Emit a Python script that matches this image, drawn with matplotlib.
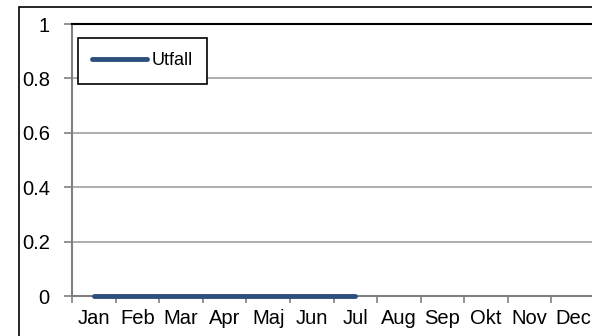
import matplotlib.pyplot as plt
import numpy as np
from matplotlib.patches import Rectangle

plt.rcParams['font.family'] = ['Liberation Sans', 'DejaVu Sans']

# Data
months = ['Jan', 'Feb', 'Mar', 'Apr', 'Maj', 'Jun', 'Jul', 'Aug', 'Sep', 'Okt', 'Nov', 'Dec']
utfall = [0, 0, 0, 0, 0, 0, 0, None, None, None, None, None]
yticks = [0, 0.2, 0.4, 0.6, 0.8, 1]

W, H = 592, 336
fs = 14.5
fig = plt.figure(figsize=(W / 100, H / 100), dpi=100)

# outer chart border (extends past the right/bottom edge)
fig.patches.append(Rectangle((19 / W, -0.2), 2, 1.2 - 7 / H, transform=fig.transFigure,
                             fill=False, edgecolor='black', linewidth=1.2, zorder=0))

ax = fig.add_axes([72 / W, 40 / H, 523 / W, 272 / H])

y = np.array([np.nan if v is None else v for v in utfall], dtype=float)
x = np.arange(len(months))
ax.plot(x, y, color='#2C4F7C', linewidth=3.5, solid_capstyle='round', label='Utfall',
        zorder=3, clip_on=False)

ax.set_xlim(-0.5, len(months) - 0.5)
ax.set_ylim(0, 1)
ax.set_yticks(yticks)
ax.set_yticklabels(['0', '0.2', '0.4', '0.6', '0.8', '1'])
ax.set_xticks(x)
ax.set_xticklabels(months)
ax.set_xticks(np.arange(len(months) + 1) - 0.5, minor=True)
ax.tick_params(axis='x', which='major', length=0, pad=9, labelsize=fs)
ax.tick_params(axis='x', which='minor', length=5, width=1.2, color='#808080')
ax.tick_params(axis='y', length=6, width=1.2, color='#808080', pad=10, labelsize=fs)

ax.grid(axis='y', color='#A0A0A0', linewidth=1.2, zorder=1)
for s in ['left', 'bottom']:
    ax.spines[s].set_color('#808080')
    ax.spines[s].set_linewidth(1.5)
ax.spines['top'].set_color('black')
ax.spines['top'].set_linewidth(1.5)
ax.spines['right'].set_visible(False)

leg = ax.legend(loc='upper left', bbox_to_anchor=(78 / W, 1 - 38 / H), bbox_transform=fig.transFigure,
                borderaxespad=0, fancybox=False, framealpha=1, edgecolor='black',
                fontsize=13, handlelength=3.0, handletextpad=0.28, borderpad=0.8)
leg.get_frame().set_linewidth(1.2)

fig.savefig('out.png', dpi=100)
